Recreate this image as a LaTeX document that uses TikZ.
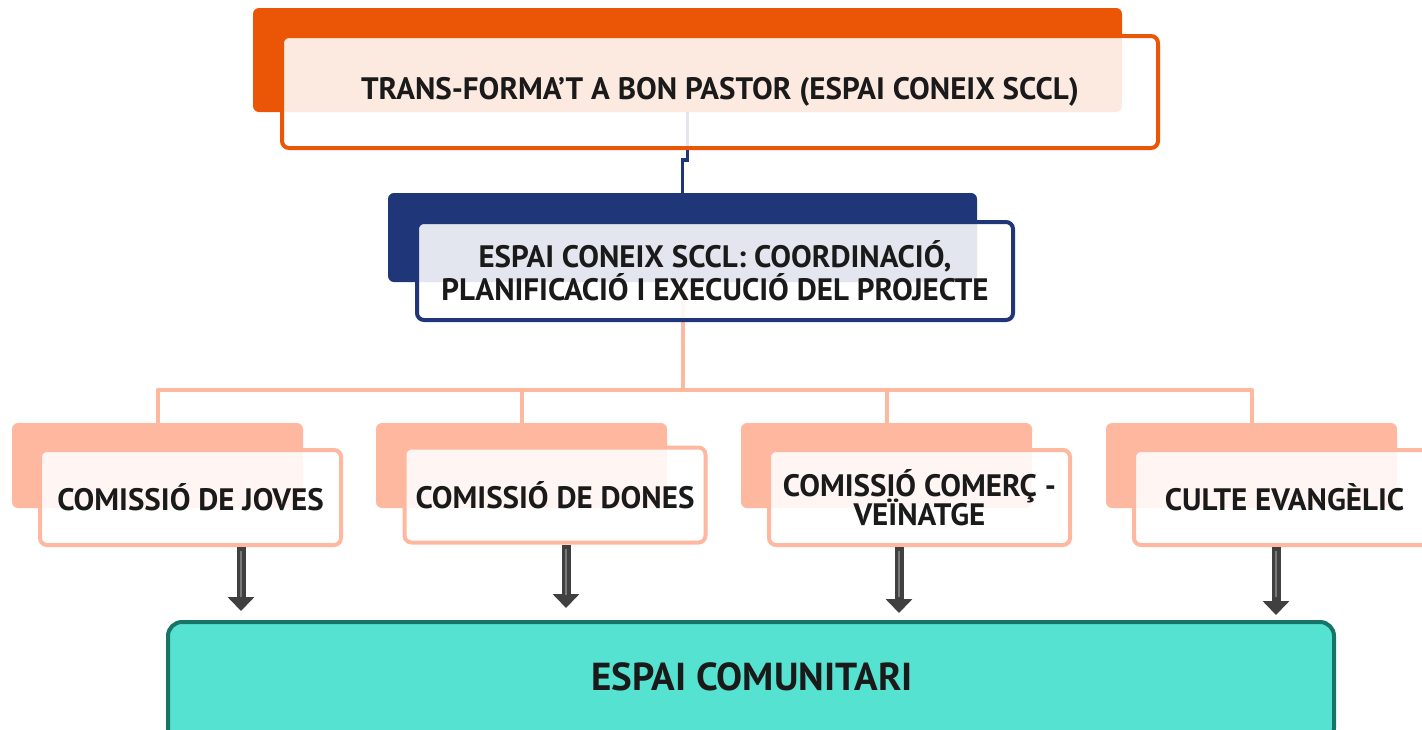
\documentclass[tikz,border=0pt]{standalone}
\usepackage{fontspec}
\setmainfont{PT Sans}
\usetikzlibrary{arrows.meta,calc}
\definecolor{orangeC}{HTML}{EA5506}
\definecolor{navyC}{HTML}{1F3778}
\definecolor{salmonC}{HTML}{FFB8A0}
\definecolor{tealF}{HTML}{55E2D0}
\definecolor{tealD}{HTML}{167566}
\definecolor{arrC}{HTML}{404040}
\definecolor{txtC}{HTML}{1A1A1A}
\begin{document}
\begin{tikzpicture}[x=1pt,y=-1pt,
  backbox/.style={rectangle,rounded corners=6pt,draw=none,inner sep=0pt},
  frontbox/.style={rectangle,rounded corners=7pt,line width=4pt,fill=white,fill opacity=0.88,text opacity=1,inner sep=0pt,align=center,text=txtC,font=\bfseries\fontsize{31}{35}\selectfont},
  combox/.style={frontbox,draw=salmonC,minimum width=301pt,minimum height=95pt},
  comback/.style={backbox,fill=salmonC,minimum width=291pt,minimum height=85pt},
  arr/.style={line width=9pt,draw=arrC,-{Triangle[width=26pt,length=14pt]}},
  arrhi/.style={line width=2pt,draw=arrC!70!white}
]
\useasboundingbox (0,0) rectangle (1422,729);

% top level
\node[backbox,fill=orangeC,minimum width=869pt,minimum height=104pt] (tb) at (687.5,60) {};
\node[backbox,fill=navyC,minimum width=589pt,minimum height=89pt] (bb) at (682.5,237.5) {};
\draw[navyC,line width=3.5pt] (tb.south) -- ++(0,48) -- ++(-5,0) -- (bb.north);

% commission back boxes
\node[comback] (cb1) at (157.5,465.5) {};
\node[comback] (cb2) at (521.5,465.5) {};
\node[comback] (cb3) at (886.5,465.5) {};
\node[comback] (cb4) at (1251.5,465.5) {};

\coordinate (bus) at (682.5,390);
\draw[salmonC,line width=4pt] (bb.south) -- (bus);
\foreach \i in {1,2,3,4}{
  \draw[salmonC,line width=4pt,line join=round] (bus) -| (cb\i.north);
}

\node[frontbox,draw=orangeC,minimum width=876pt,minimum height=112pt] (tf) at (720,92) {TRANS-FORMA’T A BON PASTOR (ESPAI CONEIX SCCL)};
\node[frontbox,draw=navyC,minimum width=596pt,minimum height=98pt] (bf) at (715,271) {ESPAI CONEIX SCCL: COORDINACIÓ,\\[-2pt]PLANIFICACIÓ I EXECUCIÓ DEL PROJECTE};

\node[combox] (f1) at (190.5,497.5) {COMISSIÓ DE JOVES};
\node[combox] (f2) at (555,495) {COMISSIÓ DE DONES};
\node[combox] (f3) at (919.5,497.5) {COMISSIÓ COMERÇ -\\[-6pt]VEÏNATGE};
\node[combox] (f4) at (1284.5,497.5) {CULTE EVANGÈLIC};

% bottom box
\node[rectangle,rounded corners=14pt,line width=4pt,draw=tealD,fill=tealF,minimum width=1166pt,minimum height=120pt] (ec) at (751,682) {};
\node[text=txtC,font=\bfseries\fontsize{39}{44}\selectfont,inner sep=0pt] (ect) at (752,677) {ESPAI COMUNITARI};

% arrows
\coordinate (a1) at (241,611);
\coordinate (a2) at (566,608);
\coordinate (a3) at (899,613);
\coordinate (a4) at (1276,615);
\draw[arr] ($(f1.south)+(50.5,0)$) -- (a1);
\draw[arr] ($(f2.south)+(11,0)$) -- (a2);
\draw[arr] ($(f3.south)+(-20.5,0)$) -- (a3);
\draw[arr] ($(f4.south)+(-8.5,0)$) -- (a4);
\draw[arrhi] ($(f1.south)+(50.5,4)$) -- ++(0,46);
\draw[arrhi] ($(f2.south)+(11,4)$) -- ++(0,46);
\draw[arrhi] ($(f3.south)+(-20.5,4)$) -- ++(0,46);
\draw[arrhi] ($(f4.south)+(-8.5,4)$) -- ++(0,46);
\end{tikzpicture}
\end{document}
